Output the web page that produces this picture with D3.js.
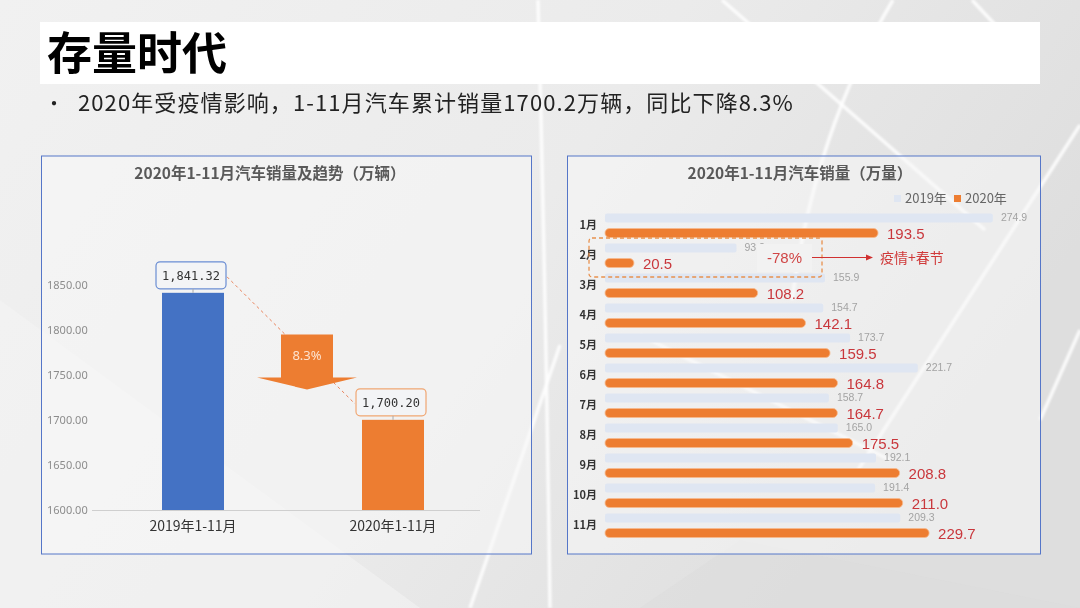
<!DOCTYPE html>
<html><head><meta charset="utf-8">
<script src="https://cdn.jsdelivr.net/npm/d3@7"></script>
<style>
html,body{margin:0;padding:0;background:#e9e9e9;}
svg{display:block;font-family:"Noto Sans CJK SC","Noto Sans",sans-serif;}
</style></head>
<body>
<svg id="c" width="1080" height="608"></svg>
<script>
// ---- data ----
const slideTitle = "存量时代";
const bulletText = "2020年受疫情影响，1-11月汽车累计销量1700.2万辆，同比下降8.3%";

const leftTitle = "2020年1-11月汽车销量及趋势（万辆）";
const totalCats = ["2019年1-11月", "2020年1-11月"];
const totalValues = [1841.32, 1700.20];
const totalLabels = ["1,841.32", "1,700.20"];
const yTicks = [1600, 1650, 1700, 1750, 1800, 1850];
const dropLabel = "8.3%";

const rightTitle = "2020年1-11月汽车销量（万量）";
const months = ["1月","2月","3月","4月","5月","6月","7月","8月","9月","10月","11月"];
const sales2019 = [274.9, 93.2, 155.9, 154.7, 173.7, 221.7, 158.7, 165.0, 192.1, 191.4, 209.3];
const sales2020 = [193.5, 20.5, 108.2, 142.1, 159.5, 164.8, 164.7, 175.5, 208.8, 211.0, 229.7];
const seriesNames = ["2019年", "2020年"];
const febChange = "-78%";
const febReason = "疫情+春节";

// ---- drawing ----
const svg = d3.select("#c");
const defs = svg.append("defs");
const bg = defs.append("linearGradient").attr("id","bg").attr("x1","0").attr("y1","0").attr("x2","1").attr("y2","0.4");
bg.append("stop").attr("offset","0").attr("stop-color","#f1f1f1");
bg.append("stop").attr("offset","0.55").attr("stop-color","#ebebeb");
bg.append("stop").attr("offset","1").attr("stop-color","#dedede");
defs.append("filter").attr("id","blur").append("feGaussianBlur").attr("stdDeviation",1.2);

svg.append("rect").attr("width",1080).attr("height",608).attr("fill","url(#bg)");
svg.append("path").attr("d","M0 608 L0 300 L420 608 Z").attr("fill","#f3f3f3").attr("opacity",0.6);
svg.append("path").attr("d","M640 608 L740 540 L1080 608 Z").attr("fill","#dcdcdc").attr("opacity",0.5);
const streaks = [
  "M538 0 Q546 300 550 608",
  "M722 0 L985 230",
  "M893 0 Q815 130 792 300",
  "M1080 125 L858 470",
  "M560 345 L470 608",
  "M640 335 L890 460",
  "M972 0 L1000 30",
  "M1080 330 L1040 420"
];
svg.append("g").attr("filter","url(#blur)").selectAll("path").data(streaks).join("path")
  .attr("d", d=>d).attr("fill","none").attr("stroke","#ffffff").attr("stroke-width",3.5).attr("opacity",0.85);

// title bar
svg.append("rect").attr("x",40).attr("y",22).attr("width",1000).attr("height",62).attr("fill","#ffffff");
svg.append("text").attr("x",47).attr("y",70).attr("font-size",45).attr("font-weight",700)
  .attr("fill","#000").text(slideTitle);
svg.append("text").attr("x",44).attr("y",111).attr("font-size",20).attr("fill","#222").text("•");
svg.append("text").attr("x",78).attr("y",111).attr("font-size",22).attr("fill","#222")
  .style("letter-spacing","1.1px").text(bulletText);

// panels
function panel(x0,x1){
  svg.append("rect").attr("x",x0).attr("y",156).attr("width",x1-x0).attr("height",398)
    .attr("fill","rgba(247,247,247,0.55)").attr("stroke","#5576c8").attr("stroke-width",1);
}
panel(41.5,531.5);
panel(567.5,1040.5);

// ---------- left chart ----------
const L = svg.append("g");
L.append("text").attr("x",270).attr("y",179).attr("text-anchor","middle").attr("font-size",15.5)
  .attr("font-weight",700).attr("fill","#595959").text(leftTitle);

const yL = d3.scaleLinear().domain([1600,1850]).range([510,285]);
const xL = d3.scaleBand().domain(totalCats).range([93,493]).paddingInner(0.69).paddingOuter(0.345);

const yAxis = d3.axisLeft(yL).tickValues(yTicks).tickFormat(d3.format(".2f")).tickSize(0);
const ya = L.append("g").attr("transform","translate(47,0)").call(yAxis);
ya.select(".domain").remove();
ya.selectAll("text").attr("text-anchor","start").attr("x",0).attr("dy","0.35em")
  .attr("font-size",11).attr("fill","#8c8c8c").style("font-family","'Noto Sans','Liberation Sans',sans-serif");

L.append("line").attr("x1",92).attr("x2",480).attr("y1",yL(1600)+0.5).attr("y2",yL(1600)+0.5)
  .attr("stroke","#cfcfcf").attr("stroke-width",1);

const barColorsL = ["#4472c4","#ed7d31"];
L.selectAll("rect.bar").data(totalValues).join("rect").attr("class","bar")
  .attr("x",(d,i)=>xL(totalCats[i])).attr("width",xL.bandwidth())
  .attr("y",d=>yL(d)).attr("height",d=>yL(1600)-yL(d))
  .attr("fill",(d,i)=>barColorsL[i]);

const xAxisL = d3.axisBottom(xL).tickSize(0);
const xa = L.append("g").attr("transform",`translate(0,${yL(1600)})`).call(xAxisL);
xa.select(".domain").remove();
xa.selectAll("text").attr("dy","0").attr("y",21).attr("font-size",14).attr("fill","#333")
  .style("font-family","'Noto Sans CJK SC',sans-serif");

// dashed connector
const c1x = xL(totalCats[0]) + xL.bandwidth()/2, c2x = xL(totalCats[1]) + xL.bandwidth()/2;
L.append("line").attr("x1",c1x+34).attr("y1",yL(totalValues[0])-16)
  .attr("x2",c2x-38).attr("y2",yL(totalValues[1])-16)
  .attr("stroke","#e8825a").attr("stroke-width",1).attr("stroke-dasharray","3,3");

// drop arrow
const ax = (c1x+c2x)/2 + 14, ayTop = yL(1795);
const arrowPath = `M${ax-26} ${ayTop} L${ax+26} ${ayTop} L${ax+26} ${ayTop+43} L${ax+50} ${ayTop+43} L${ax} ${ayTop+55} L${ax-50} ${ayTop+43} L${ax-26} ${ayTop+43} Z`;
L.append("path").attr("d",arrowPath).attr("fill","#ed7d31");
L.append("text").attr("x",ax).attr("y",ayTop+25).attr("text-anchor","middle").attr("font-size",13)
  .attr("fill","#fde3cf").style("font-family","'Noto Sans',sans-serif").text(dropLabel);

// value label boxes
const boxStroke = ["#6a8dd3","#f0a672"];
totalValues.forEach((v,i)=>{
  const cx = xL(totalCats[i]) + xL.bandwidth()/2 - 2;
  const by = yL(v) - 31;
  L.append("rect").attr("x",cx-35).attr("y",by).attr("width",70).attr("height",27).attr("rx",4)
    .attr("fill","#f3f4f6").attr("stroke",boxStroke[i]).attr("stroke-width",1.2);
  L.append("text").attr("x",cx).attr("y",by+14).attr("dy","0.35em").attr("text-anchor","middle")
    .attr("font-size",12).attr("fill","#333").style("font-family","'DejaVu Sans Mono',monospace").text(totalLabels[i]);
  L.append("line").attr("x1",cx+2).attr("x2",cx+2).attr("y1",by+27).attr("y2",yL(v)).attr("stroke","#aaa");
});

// ---------- right chart ----------
const R = svg.append("g");
R.append("text").attr("x",800).attr("y",179).attr("text-anchor","middle").attr("font-size",15.5)
  .attr("font-weight",700).attr("fill","#595959").text(rightTitle);

const legColors = ["#dfe6f2","#ed7d31"];
const legX = [894, 954];
seriesNames.forEach((n,i)=>{
  R.append("rect").attr("x",legX[i]).attr("y",195).attr("width",7).attr("height",7).attr("fill",legColors[i]);
  R.append("text").attr("x",legX[i]+11).attr("y",198.5).attr("dy","0.35em").attr("font-size",13)
    .attr("fill","#666").text(n);
});

const xR = d3.scaleLinear().domain([0,300]).range([605,1028.3]);
const yR = d3.scaleBand().domain(months).range([210,540]);

const yAxisR = d3.axisLeft(yR).tickSize(0);
const yr = R.append("g").attr("transform","translate(597,0)").call(yAxisR);
yr.select(".domain").remove();
yr.selectAll("text").attr("x",0).attr("font-size",11).attr("font-weight",700).attr("fill","#333")
  .style("font-family","'Noto Sans CJK SC',sans-serif");

R.selectAll("rect.b19").data(sales2019).join("rect").attr("class","b19")
  .attr("x",xR(0)).attr("y",(d,i)=>yR(months[i])+3.5).attr("height",9)
  .attr("width",d=>xR(d)-xR(0)).attr("rx",2).attr("fill","#dfe6f2");
R.selectAll("text.l19").data(sales2019).join("text").attr("class","l19")
  .attr("x",d=>xR(d)+8).attr("y",(d,i)=>yR(months[i])+7.5).attr("dy","0.35em")
  .attr("font-size",10.5).attr("fill","#a3a3a3").style("font-family","'Liberation Sans',sans-serif")
  .text(d=>d.toFixed(1));

R.selectAll("rect.b20").data(sales2020).join("rect").attr("class","b20")
  .attr("x",xR(0)).attr("y",(d,i)=>yR(months[i])+18.5).attr("height",9)
  .attr("width",d=>xR(d)-xR(0)).attr("rx",4.5).attr("fill","#ed7d31")
  .attr("stroke","#f6b98c").attr("stroke-width",0.8);
R.selectAll("text.l20").data(sales2020).join("text").attr("class","l20")
  .attr("x",d=>xR(d)+9).attr("y",(d,i)=>yR(months[i])+24).attr("dy","0.35em")
  .attr("font-size",15).attr("fill","#c9373c").style("font-family","'Liberation Sans',sans-serif")
  .text(d=>d.toFixed(1));

// Feb annotation
const febY = yR(months[1]);
R.append("rect").attr("x",757).attr("y",febY+4).attr("width",55).attr("height",28)
  .attr("fill","#f2f2f2");
R.append("rect").attr("x",589).attr("y",febY-2).attr("width",233).attr("height",39).attr("rx",3)
  .attr("fill","none").attr("stroke","#e8914e").attr("stroke-width",1.3).attr("stroke-dasharray","4,3");
R.append("text").attr("x",767).attr("y",febY+18).attr("dy","0.35em").attr("font-size",15)
  .attr("fill","#d04545").style("font-family","'Liberation Sans',sans-serif").text(febChange);
R.append("line").attr("x1",812).attr("x2",866).attr("y1",febY+17.5).attr("y2",febY+17.5)
  .attr("stroke","#d03030").attr("stroke-width",1.2);
R.append("path").attr("d",`M866 ${febY+14.5} L873 ${febY+17.5} L866 ${febY+20.5} Z`).attr("fill","#d03030");
R.append("text").attr("x",880).attr("y",febY+18).attr("dy","0.35em").attr("font-size",14)
  .attr("fill","#d03a3a").text(febReason);
</script>
</body></html>
